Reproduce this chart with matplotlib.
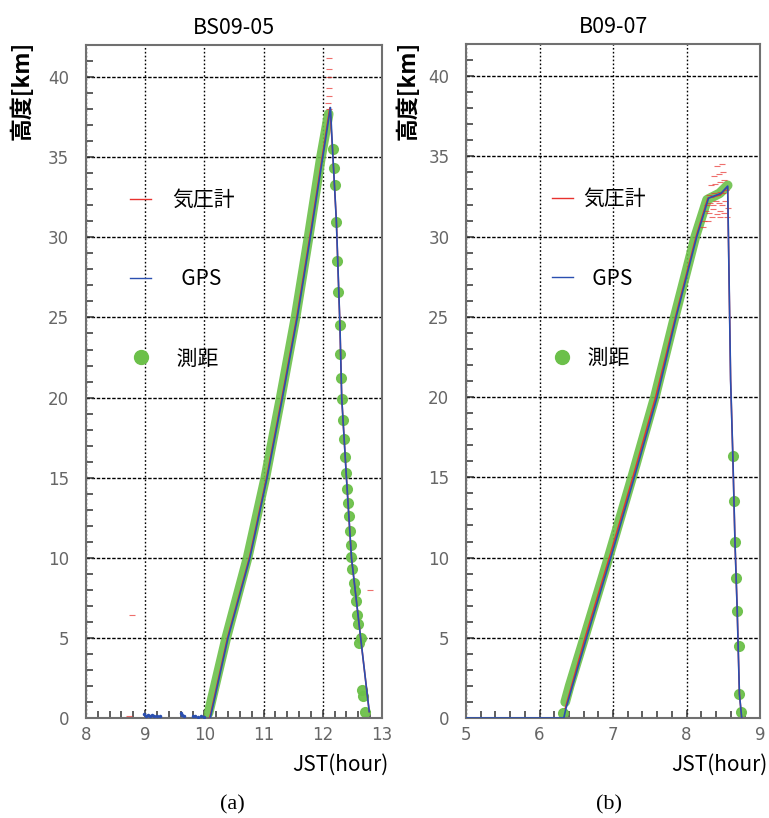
import matplotlib
matplotlib.use("Agg")
import matplotlib.pyplot as plt
from matplotlib.ticker import MultipleLocator
from matplotlib.lines import Line2D

# ---------------- data : panel (a) BS09-05 ----------------
a_title = "BS09-05"
a_xlim = (8, 13)
a_gps_t = [10.10, 10.40, 10.77, 11.06, 11.32, 11.57, 11.79, 12.00, 12.13,
           12.165, 12.23, 12.29, 12.32, 12.40, 12.485, 12.64, 12.785]
a_gps_h = [0, 5, 10, 15, 20, 25, 30, 35, 38.1,
           35.5, 31.0, 24.5, 20.0, 15.0, 10.0, 5.0, 0.4]
a_baro_t = [10.09, 10.39, 10.76, 11.05, 11.31, 11.56, 11.78, 11.99, 12.12,
            12.165, 12.23, 12.29, 12.32, 12.40, 12.485, 12.64, 12.785]
a_baro_h = [0, 5, 10, 15, 20, 25, 30, 35, 38.1,
            35.5, 31.0, 24.5, 20.0, 15.0, 10.0, 5.0, 0.4]
a_range_up_t = [10.07, 10.37, 10.73, 11.03, 11.29, 11.54, 11.76, 11.97, 12.10]
a_range_up_h = [0.3, 5, 10, 15, 20, 25, 30, 35, 37.7]
a_range_dn_t = [12.17, 12.19, 12.21, 12.23, 12.24, 12.26, 12.29, 12.29, 12.31, 12.32,
                12.35, 12.36, 12.38, 12.40, 12.41, 12.43, 12.44, 12.46, 12.48, 12.48,
                12.49, 12.53, 12.54, 12.56, 12.58, 12.60, 12.64, 12.62, 12.67, 12.68, 12.71]
a_range_dn_h = [35.5, 34.3, 33.25, 30.96, 28.5, 26.6, 24.5, 22.7, 21.2, 19.9,
                18.6, 17.4, 16.3, 15.3, 14.3, 13.4, 12.6, 11.7, 10.8, 10.06,
                9.3, 8.4, 7.9, 7.3, 6.4, 5.9, 5.0, 4.7, 1.75, 1.4, 0.4]
a_baro_pts_t = [12.10, 12.11, 12.10, 12.10, 12.11, 12.09, 12.10, 8.77, 8.73, 12.79]
a_baro_pts_h = [41.2, 40.5, 40.0, 39.3, 38.8, 38.4, 38.0, 6.4, 0.15, 8.0]
a_gps_pts_t = [8.98, 9.02, 9.05, 9.08, 9.12, 9.15, 9.20, 9.25, 9.60, 9.63, 9.66,
               9.80, 9.85, 9.90, 9.95, 10.00]
a_gps_pts_h = [0.25, 0.15, 0.20, 0.10, 0.18, 0.12, 0.10, 0.15, 0.30, 0.20, 0.15,
               0.10, 0.12, 0.08, 0.10, 0.05]

# ---------------- data : panel (b) B09-07 ----------------
b_title = "B09-07"
b_xlim = (5, 9)
b_gps_t = [5.00, 6.33, 6.36, 6.64, 6.97, 7.29, 7.60, 7.86, 8.14, 8.30, 8.47, 8.56,
           8.60, 8.63, 8.66, 8.69, 8.72, 8.75]
b_gps_h = [0, 0, 0.6, 5, 10, 15, 20, 25, 30, 32.4, 32.7, 33.15,
           21.1, 16.4, 10.9, 6.7, 1.5, 0.05]
b_baro_t = [6.35, 6.62, 6.95, 7.27, 7.58, 7.85, 8.13, 8.29, 8.46, 8.56,
            8.60, 8.63, 8.66, 8.69, 8.72, 8.75]
b_baro_h = [0.6, 5, 10, 15, 20, 25, 30, 32.4, 32.6, 33.1,
            21.1, 16.4, 10.9, 6.7, 1.5, 0.05]
b_range_up_t = [6.35, 6.41, 6.61, 6.94, 7.26, 7.57, 7.84, 8.12, 8.28, 8.45, 8.56]
b_range_up_h = [1.0, 2.0, 5, 10, 15, 20, 25, 30, 32.3, 32.7, 33.2]
b_range_dn_t = [6.32, 8.63, 8.64, 8.66, 8.68, 8.69, 8.71, 8.72, 8.74]
b_range_dn_h = [0.3, 16.36, 13.5, 10.94, 8.75, 6.67, 4.5, 1.5, 0.35]
b_baro_pts_t = [8.28, 8.32, 8.36, 8.40, 8.44, 8.48, 8.52, 8.30, 8.34, 8.38, 8.42, 8.46,
                8.50, 8.54, 8.26, 8.31, 8.36, 8.41, 8.46, 8.51, 8.56, 8.33, 8.39, 8.45,
                8.51, 8.37, 8.44, 8.50, 8.42, 8.48, 8.24, 8.22, 8.29, 8.35, 8.45, 8.55]
b_baro_pts_h = [32.0, 32.1, 32.0, 32.2, 32.1, 32.0, 32.2, 32.6, 32.5, 32.7, 32.6, 32.8,
                32.7, 32.9, 31.6, 31.5, 31.7, 31.4, 31.6, 31.5, 31.8, 33.2, 33.3, 33.4,
                33.5, 33.8, 33.9, 34.0, 34.4, 34.5, 31.0, 30.6, 31.0, 31.2, 31.2, 31.2]

ylim = (0, 42)
labels = ["気圧計", "  GPS", " 測距"]
ylabel = "高度[km]"
xlabel = "JST(hour)"
panel_tags = ["(a)", "(b)"]

RED = "#e8322e"
BLUE = "#2a4fb0"
GREEN = "#6cc04a"
CJK = ["Noto Sans CJK JP", "DejaVu Sans"]

fig = plt.figure(figsize=(7.69, 8.18), dpi=100)
axA = fig.add_axes([0.1118, 0.1222, 0.3849, 0.8227])
axB = fig.add_axes([0.6060, 0.1222, 0.3823, 0.8239])


def style(ax, title, xlim):
    ax.set_xlim(*xlim)
    ax.set_ylim(*ylim)
    ax.xaxis.set_major_locator(MultipleLocator(1))
    ax.xaxis.set_minor_locator(MultipleLocator(0.2))
    ax.yaxis.set_major_locator(MultipleLocator(5))
    ax.yaxis.set_minor_locator(MultipleLocator(1))
    ax.tick_params(which="both", direction="in", color="#333333", width=1.1,
                   labelcolor="#666666", labelsize=12)
    ax.tick_params(which="major", length=6)
    ax.tick_params(which="minor", length=5)
    ax.tick_params(axis="y", pad=12)
    ax.tick_params(axis="x", pad=6)
    for s in ax.spines.values():
        s.set_color("#707070")
        s.set_linewidth(1.5)
    ax.xaxis.grid(True, which="major", color="black", linestyle=(0, (1.2, 1.6)), linewidth=1.0)
    ax.yaxis.grid(True, which="major", color="black", linestyle=(0, (2.5, 1.2)), linewidth=1.0)
    ax.set_axisbelow(True)
    ax.set_title(title, fontsize=15.5, family=CJK, pad=8)


def draw(ax, up_t, up_h, dn_t, dn_h, gps_t, gps_h, baro_t, baro_h, bp_t, bp_h):
    ax.plot(up_t, up_h, color=GREEN, lw=7, solid_capstyle="round",
            solid_joinstyle="round", alpha=0.9, zorder=2)
    ax.plot(dn_t, dn_h, "o", color=GREEN, ms=7, mec=GREEN, alpha=0.95, zorder=2)
    ax.plot(baro_t, baro_h, color=RED, lw=1.1, zorder=3)
    ax.plot(gps_t, gps_h, color=BLUE, lw=1.2, zorder=4)
    ax.plot(bp_t, bp_h, "_", color=RED, ms=5, mew=0.8, alpha=0.7, zorder=3)


style(axA, a_title, a_xlim)
style(axB, b_title, b_xlim)
draw(axA, a_range_up_t, a_range_up_h, a_range_dn_t, a_range_dn_h,
     a_gps_t, a_gps_h, a_baro_t, a_baro_h, a_baro_pts_t, a_baro_pts_h)
axA.plot(a_gps_pts_t, a_gps_pts_h, ".", color=BLUE, ms=3, zorder=4)
draw(axB, b_range_up_t, b_range_up_h, b_range_dn_t, b_range_dn_h,
     b_gps_t, b_gps_h, b_baro_t, b_baro_h, b_baro_pts_t, b_baro_pts_h)

handles = [Line2D([], [], color=RED, lw=1.0),
           Line2D([], [], color=BLUE, lw=1.0),
           Line2D([], [], color=GREEN, marker="o", ms=10, lw=0)]
for ax, anchor, tpad in [(axA, (0.150, 0.786), 1.0), (axB, (0.2925, 0.786), 0.5)]:
    ax.legend(handles, labels, loc="upper left", bbox_to_anchor=anchor,
              frameon=False, borderpad=0, borderaxespad=0, handlelength=1.0,
              handletextpad=tpad, labelspacing=2.75,
              prop={"family": CJK, "size": 15})

fig.text(22 / 769, 1 - 90 / 818, ylabel, rotation=90, ha="center", va="center",
         fontsize=16.5, fontweight="bold", family=CJK)
fig.text(408 / 769, 1 - 90 / 818, ylabel, rotation=90, ha="center", va="center",
         fontsize=16.5, fontweight="bold", family=CJK)
fig.text(388 / 769, 1 - 765 / 818, xlabel, ha="right", va="center", fontsize=15, family=CJK)
fig.text(767 / 769, 1 - 765 / 818, xlabel, ha="right", va="center", fontsize=15, family=CJK)
fig.text(232 / 769, 1 - 805 / 818, panel_tags[0], ha="center", va="center",
         fontsize=16, family="Liberation Serif")
fig.text(609 / 769, 1 - 805 / 818, panel_tags[1], ha="center", va="center",
         fontsize=16, family="Liberation Serif")

fig.savefig("out.png", dpi=100)
